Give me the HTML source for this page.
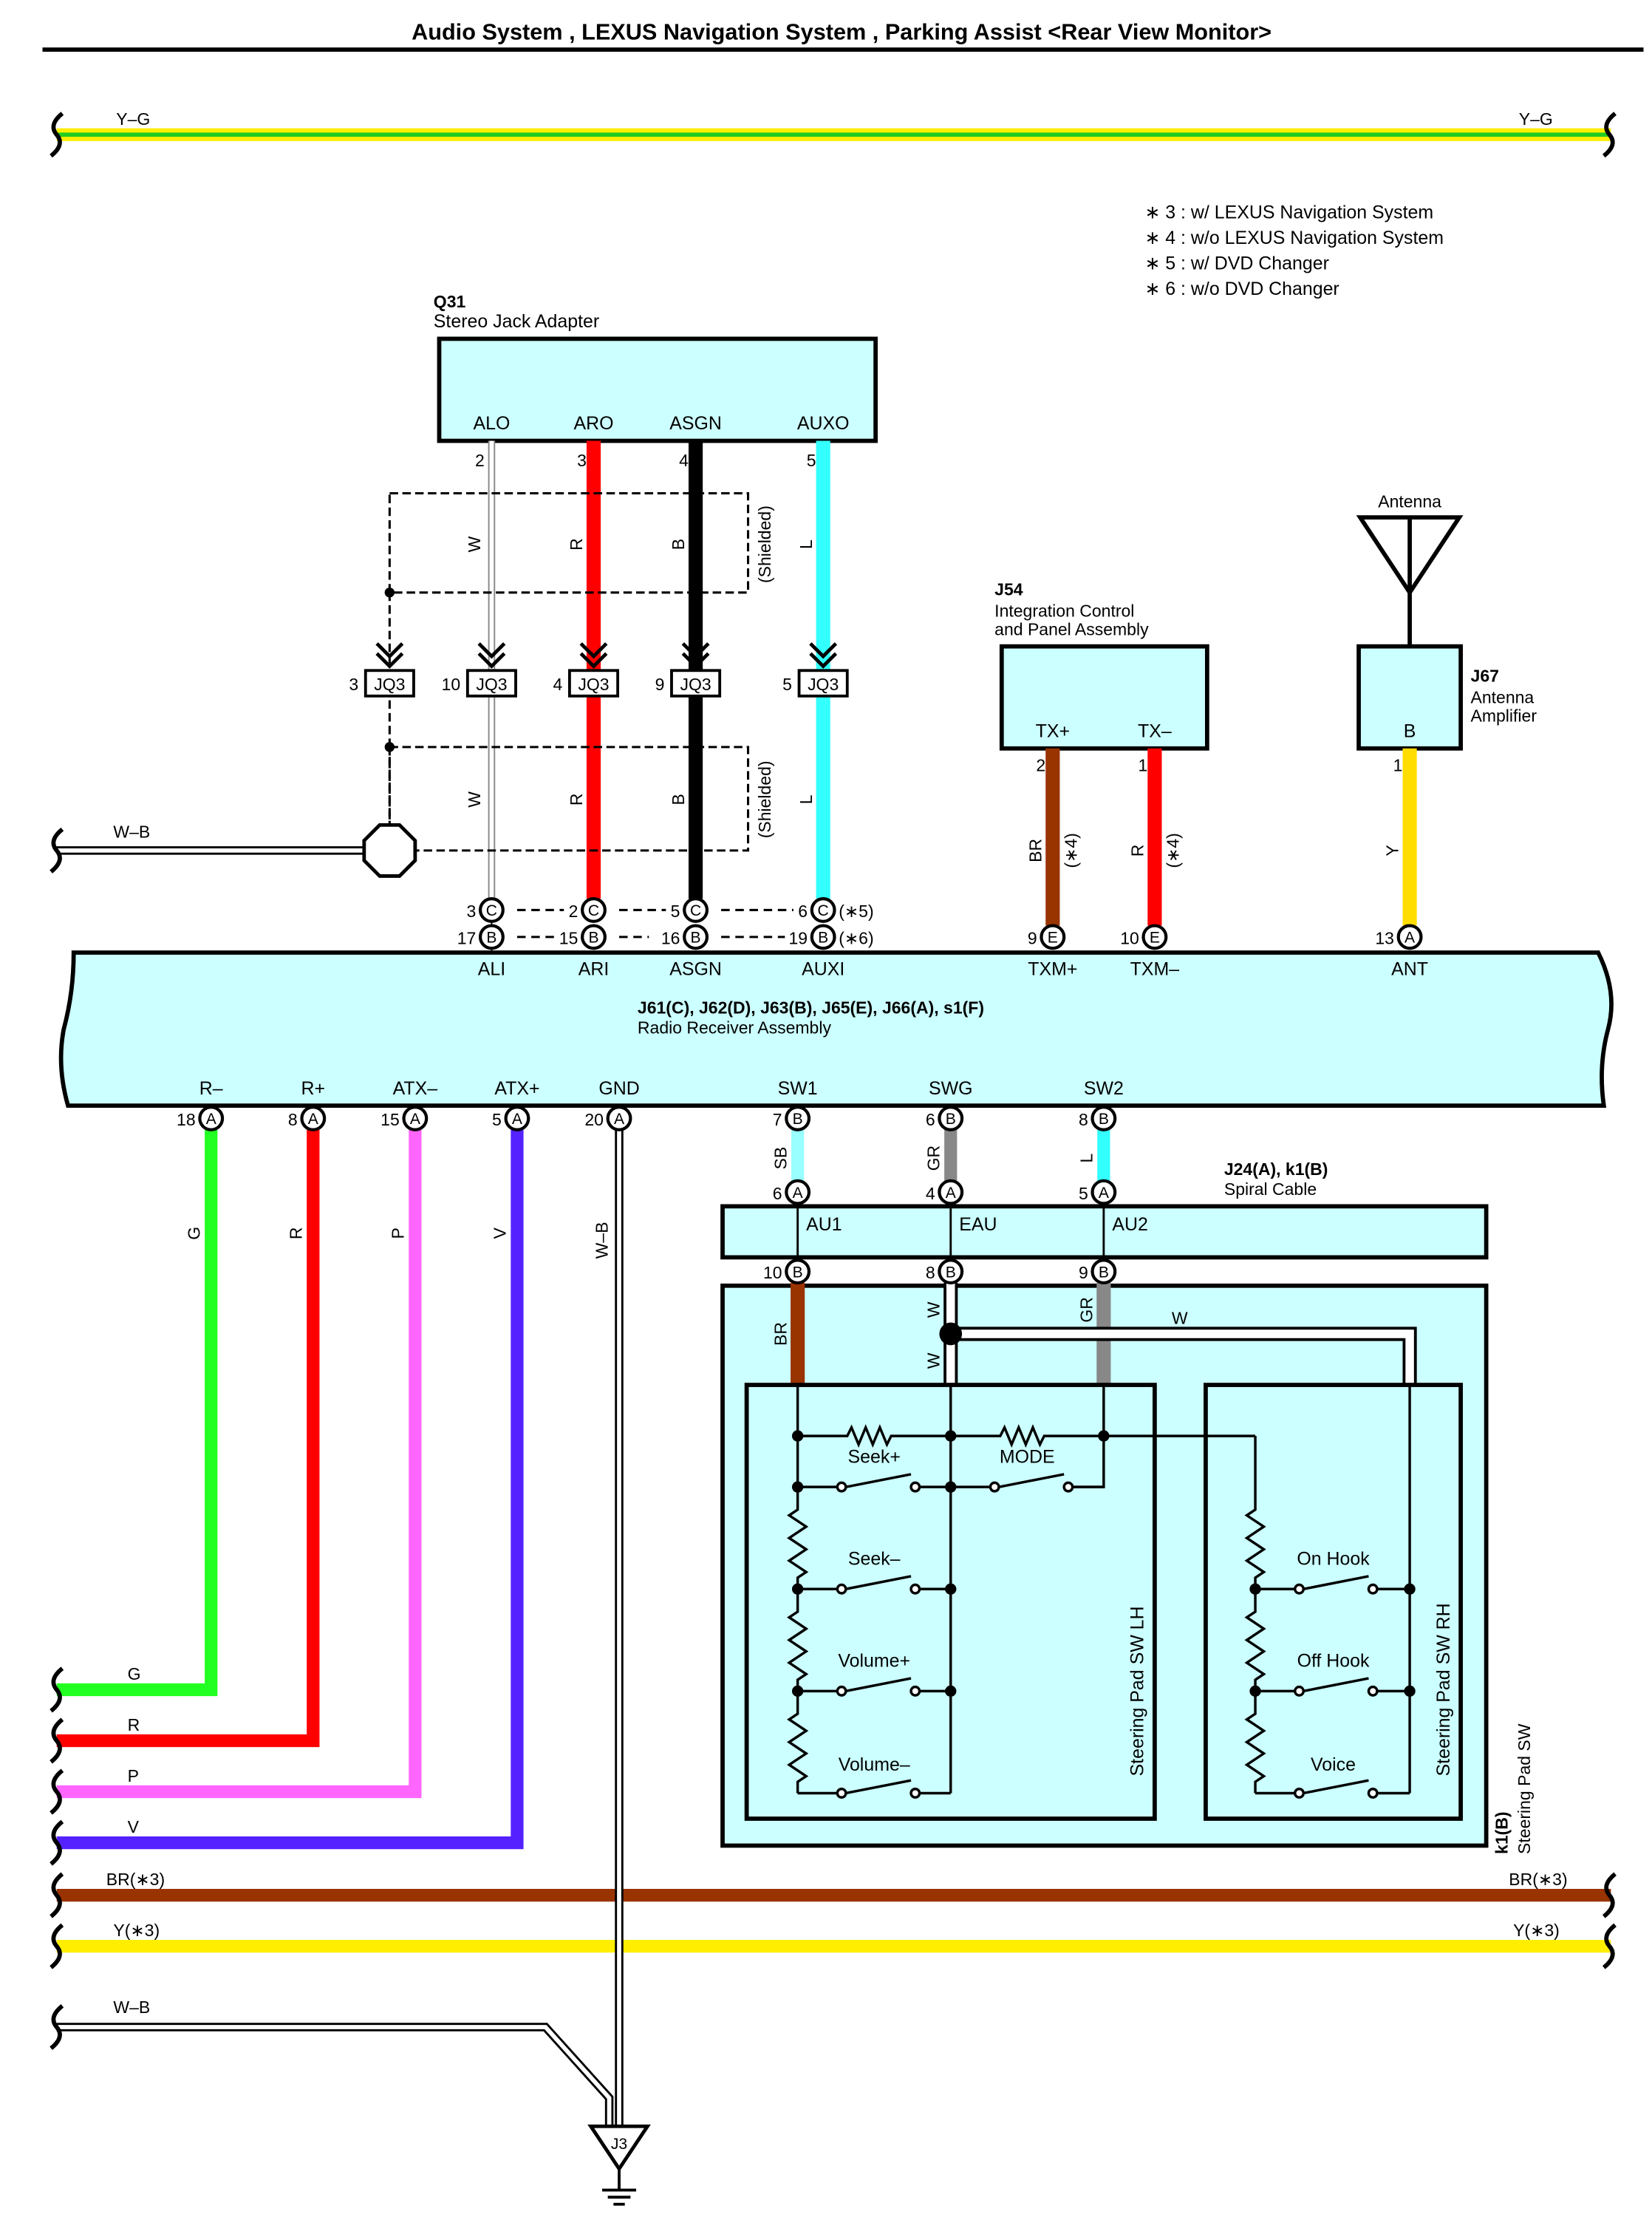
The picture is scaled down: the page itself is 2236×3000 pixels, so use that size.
<!DOCTYPE html>
<html><head><meta charset="utf-8">
<style>
html,body{margin:0;padding:0;background:#fff;}
svg{display:block;}
text{font-family:"Liberation Sans",Arial,sans-serif;fill:#000;}
</style></head>
<body>
<svg width="2236" height="3000" viewBox="0 0 1166 1564" preserveAspectRatio="none" xmlns="http://www.w3.org/2000/svg">
<rect width="1166" height="1564" fill="#fff"/>
<!-- title -->
<text x="594" y="28" font-size="16" font-weight="bold" text-anchor="middle">Audio System , LEXUS Navigation System , Parking Assist &lt;Rear View Monitor&gt;</text>
<line x1="30" y1="35" x2="1160" y2="35" stroke="#000" stroke-width="3"/>

<!-- Y-G -->
<line x1="40" y1="95" x2="1137" y2="95" stroke="#ffee00" stroke-width="9"/>
<line x1="40" y1="95" x2="1137" y2="95" stroke="#22cc22" stroke-width="3"/>
<path d="M44 80 q-10 8 -4 15 q6 7 -4 15" fill="none" stroke="#000" stroke-width="3"/>
<path d="M1140 80 q-10 8 -4 15 q6 7 -4 15" fill="none" stroke="#000" stroke-width="3"/>
<text x="82" y="88" font-size="12">Y–G</text>
<text x="1072" y="88" font-size="12">Y–G</text>

<!-- notes -->
<g font-size="13">
<text x="808" y="154">∗ 3 : w/ LEXUS Navigation System</text>
<text x="808" y="172">∗ 4 : w/o LEXUS Navigation System</text>
<text x="808" y="190">∗ 5 : w/ DVD Changer</text>
<text x="808" y="208">∗ 6 : w/o DVD Changer</text>
</g>

<!-- Q31 -->
<text x="306" y="217" font-size="12" font-weight="bold">Q31</text>
<text x="306" y="231" font-size="13">Stereo Jack Adapter</text>
<rect x="310" y="239" width="308" height="72" fill="#ccffff" stroke="#000" stroke-width="3"/>
<g font-size="13" text-anchor="middle">
<text x="347" y="303">ALO</text><text x="419" y="303">ARO</text><text x="491" y="303">ASGN</text><text x="581" y="303">AUXO</text>
</g>
<g font-size="12" text-anchor="end">
<text x="342" y="329">2</text><text x="414" y="329">3</text><text x="486" y="329">4</text><text x="576" y="329">5</text>
</g>

<!-- wires Q31 to radio -->
<line x1="347" y1="311" x2="347" y2="634" stroke="#888" stroke-width="5"/>
<line x1="347" y1="311" x2="347" y2="634" stroke="#fff" stroke-width="3"/>
<line x1="419" y1="311" x2="419" y2="634" stroke="#ff0000" stroke-width="10"/>
<line x1="491" y1="311" x2="491" y2="634" stroke="#000" stroke-width="10"/>
<line x1="581" y1="311" x2="581" y2="634" stroke="#33ffff" stroke-width="10"/>

<!-- shields -->
<g fill="none" stroke="#000" stroke-width="1.6" stroke-dasharray="6,3">
<rect x="275" y="348" width="253" height="70"/>
<rect x="275" y="527" width="253" height="73"/>
<line x1="275" y1="418" x2="275" y2="468"/>
<line x1="275" y1="494" x2="275" y2="527"/>
<line x1="275" y1="527" x2="275" y2="582"/>
</g>
<circle cx="275" cy="418" r="3.5" fill="#000"/>
<circle cx="275" cy="527" r="3.5" fill="#000"/>
<text transform="translate(544,384) rotate(-90)" font-size="12" text-anchor="middle">(Shielded)</text>
<text transform="translate(544,564) rotate(-90)" font-size="12" text-anchor="middle">(Shielded)</text>
<g font-size="12" text-anchor="middle">
<text transform="translate(339,384) rotate(-90)">W</text>
<text transform="translate(411,384) rotate(-90)">R</text>
<text transform="translate(483,384) rotate(-90)">B</text>
<text transform="translate(573,384) rotate(-90)">L</text>
<text transform="translate(339,564) rotate(-90)">W</text>
<text transform="translate(411,564) rotate(-90)">R</text>
<text transform="translate(483,564) rotate(-90)">B</text>
<text transform="translate(573,564) rotate(-90)">L</text>
</g>

<!-- JQ3 connectors -->
<g stroke="#000" stroke-width="2.5" fill="none">
<path d="M266 454 l9 9 l9 -9 M266 461 l9 9 l9 -9"/>
<path d="M338 454 l9 9 l9 -9 M338 461 l9 9 l9 -9"/>
<path d="M410 454 l9 9 l9 -9 M410 461 l9 9 l9 -9"/>
<path d="M482 454 l9 9 l9 -9 M482 461 l9 9 l9 -9"/>
<path d="M572 454 l9 9 l9 -9 M572 461 l9 9 l9 -9"/>
</g>
<g stroke="#000" stroke-width="2" fill="#fff">
<rect x="258" y="473" width="34" height="18"/>
<rect x="330" y="473" width="34" height="18"/>
<rect x="402" y="473" width="34" height="18"/>
<rect x="474" y="473" width="34" height="18"/>
<rect x="564" y="473" width="34" height="18"/>
</g>
<g font-size="12" text-anchor="middle">
<text x="275" y="487">JQ3</text><text x="347" y="487">JQ3</text><text x="419" y="487">JQ3</text><text x="491" y="487">JQ3</text><text x="581" y="487">JQ3</text>
</g>
<g font-size="12" text-anchor="end">
<text x="253" y="487">3</text><text x="325" y="487">10</text><text x="397" y="487">4</text><text x="469" y="487">9</text><text x="559" y="487">5</text>
</g>

<!-- W-B to ground octagon -->
<line x1="40" y1="600" x2="260" y2="600" stroke="#000" stroke-width="6"/>
<line x1="40" y1="600" x2="260" y2="600" stroke="#fff" stroke-width="3"/>
<path d="M44 585 q-10 8 -4 15 q6 7 -4 15" fill="none" stroke="#000" stroke-width="3"/>
<text x="80" y="591" font-size="12">W–B</text>
<polygon points="268,582 282,582 293,593 293,607 282,618 268,618 257,607 257,593" fill="#fff" stroke="#000" stroke-width="2.5"/>

<!-- connector rows C/B -->
<g stroke="#000" stroke-width="1.6" stroke-dasharray="6,4">
<line x1="365" y1="642" x2="398" y2="642"/><line x1="437" y1="642" x2="470" y2="642"/><line x1="509" y1="642" x2="560" y2="642"/>
<line x1="365" y1="661" x2="392" y2="661"/><line x1="437" y1="661" x2="458" y2="661"/><line x1="509" y1="661" x2="554" y2="661"/>
</g>
<line x1="347" y1="650" x2="347" y2="672" stroke="#000" stroke-width="1"/>
<g stroke="#000" stroke-width="2.2" fill="#fff">
<circle cx="347" cy="642" r="8"/><circle cx="419" cy="642" r="8"/><circle cx="491" cy="642" r="8"/><circle cx="581" cy="642" r="8"/>
<circle cx="347" cy="661" r="8"/><circle cx="419" cy="661" r="8"/><circle cx="491" cy="661" r="8"/><circle cx="581" cy="661" r="8"/>
</g>
<g font-size="11" text-anchor="middle">
<text x="347" y="646">C</text><text x="419" y="646">C</text><text x="491" y="646">C</text><text x="581" y="646">C</text>
<text x="347" y="665">B</text><text x="419" y="665">B</text><text x="491" y="665">B</text><text x="581" y="665">B</text>
</g>
<g font-size="12" text-anchor="end">
<text x="336" y="647">3</text><text x="408" y="647">2</text><text x="480" y="647">5</text><text x="570" y="647">6</text>
<text x="336" y="666">17</text><text x="408" y="666">15</text><text x="480" y="666">16</text><text x="570" y="666">19</text>
</g>
<text x="592" y="647" font-size="12">(∗5)</text>
<text x="592" y="666" font-size="12">(∗6)</text>

<!-- J54 -->
<text x="702" y="420" font-size="12" font-weight="bold">J54</text>
<text x="702" y="435" font-size="12">Integration Control</text>
<text x="702" y="448" font-size="12">and Panel Assembly</text>
<rect x="707" y="456" width="145" height="72" fill="#ccffff" stroke="#000" stroke-width="3"/>
<text x="743" y="520" font-size="13" text-anchor="middle">TX+</text>
<text x="815" y="520" font-size="13" text-anchor="middle">TX–</text>
<text x="738" y="544" font-size="12" text-anchor="end">2</text>
<text x="810" y="544" font-size="12" text-anchor="end">1</text>
<line x1="743" y1="528" x2="743" y2="653" stroke="#993300" stroke-width="10"/>
<line x1="815" y1="528" x2="815" y2="653" stroke="#ff0000" stroke-width="10"/>
<text transform="translate(735,600) rotate(-90)" font-size="12" text-anchor="middle">BR</text>
<text transform="translate(760,600) rotate(-90)" font-size="12" text-anchor="middle">(∗4)</text>
<text transform="translate(807,600) rotate(-90)" font-size="12" text-anchor="middle">R</text>
<text transform="translate(832,600) rotate(-90)" font-size="12" text-anchor="middle">(∗4)</text>

<!-- Antenna / J67 -->
<text x="995" y="358" font-size="12" text-anchor="middle">Antenna</text>
<polygon points="960,365 1030,365 995,418" fill="none" stroke="#000" stroke-width="3"/>
<line x1="995" y1="365" x2="995" y2="456" stroke="#000" stroke-width="3"/>
<rect x="959" y="456" width="72" height="72" fill="#ccffff" stroke="#000" stroke-width="3"/>
<text x="995" y="520" font-size="13" text-anchor="middle">B</text>
<text x="1038" y="481" font-size="12" font-weight="bold">J67</text>
<text x="1038" y="496" font-size="12">Antenna</text>
<text x="1038" y="509" font-size="12">Amplifier</text>
<text x="990" y="544" font-size="12" text-anchor="end">1</text>
<line x1="995" y1="528" x2="995" y2="653" stroke="#ffdd00" stroke-width="10"/>
<text transform="translate(987,600) rotate(-90)" font-size="12" text-anchor="middle">Y</text>

<g stroke="#000" stroke-width="2.2" fill="#fff">
<circle cx="743" cy="661" r="8"/><circle cx="815" cy="661" r="8"/><circle cx="995" cy="661" r="8"/>
</g>
<g font-size="11" text-anchor="middle"><text x="743" y="665">E</text><text x="815" y="665">E</text><text x="995" y="665">A</text></g>
<g font-size="12" text-anchor="end"><text x="732" y="666">9</text><text x="804" y="666">10</text><text x="984" y="666">13</text></g>

<!-- Radio receiver -->
<path d="M52 672 L1128 672 Q1142 700 1135 726 Q1128 752 1132 780 L48 780 Q40 752 45 726 Q52 700 52 672 Z" fill="#ccffff" stroke="#000" stroke-width="3"/>
<g font-size="13" text-anchor="middle">
<text x="347" y="688">ALI</text><text x="419" y="688">ARI</text><text x="491" y="688">ASGN</text><text x="581" y="688">AUXI</text>
<text x="743" y="688">TXM+</text><text x="815" y="688">TXM–</text><text x="995" y="688">ANT</text>
</g>
<text x="450" y="715" font-size="12" font-weight="bold">J61(C), J62(D), J63(B), J65(E), J66(A), s1(F)</text>
<text x="450" y="729" font-size="12">Radio Receiver Assembly</text>
<g font-size="13" text-anchor="middle">
<text x="149" y="772">R–</text><text x="221" y="772">R+</text><text x="293" y="772">ATX–</text><text x="365" y="772">ATX+</text><text x="437" y="772">GND</text>
<text x="563" y="772">SW1</text><text x="671" y="772">SWG</text><text x="779" y="772">SW2</text>
</g>

<!-- bottom wires -->
<path d="M149 797 V1192 H40" fill="none" stroke="#22ff22" stroke-width="9"/>
<path d="M221 797 V1228 H40" fill="none" stroke="#ff0000" stroke-width="9"/>
<path d="M293 797 V1264 H40" fill="none" stroke="#ff66ff" stroke-width="9"/>
<path d="M365 797 V1300 H40" fill="none" stroke="#5522ff" stroke-width="9"/>
<text transform="translate(141,870) rotate(-90)" font-size="12" text-anchor="middle">G</text>
<text transform="translate(213,870) rotate(-90)" font-size="12" text-anchor="middle">R</text>
<text transform="translate(285,870) rotate(-90)" font-size="12" text-anchor="middle">P</text>
<text transform="translate(357,870) rotate(-90)" font-size="12" text-anchor="middle">V</text>
<text transform="translate(429,875) rotate(-90)" font-size="12" text-anchor="middle">W–B</text>
<g font-size="12"><text x="90" y="1185">G</text><text x="90" y="1221">R</text><text x="90" y="1257">P</text><text x="90" y="1293">V</text></g>

<!-- BR and Y lines -->
<line x1="40" y1="1337" x2="1137" y2="1337" stroke="#993300" stroke-width="9"/>
<line x1="40" y1="1373" x2="1137" y2="1373" stroke="#ffee00" stroke-width="9"/>
<g font-size="12"><text x="75" y="1330">BR(∗3)</text><text x="1065" y="1330">BR(∗3)</text><text x="80" y="1366">Y(∗3)</text><text x="1068" y="1366">Y(∗3)</text></g>

<!-- GND and W-B bottom -->
<path d="M437 797 V1500" fill="none" stroke="#000" stroke-width="6"/>
<path d="M437 797 V1500" fill="none" stroke="#fff" stroke-width="3"/>
<path d="M40 1430 H385 L430 1480 V1500" fill="none" stroke="#000" stroke-width="6"/>
<path d="M40 1430 H385 L430 1480 V1500" fill="none" stroke="#fff" stroke-width="3"/>
<text x="80" y="1420" font-size="12">W–B</text>
<polygon points="417,1500 457,1500 437,1530" fill="#fff" stroke="#000" stroke-width="2.5"/>
<text x="437" y="1516" font-size="11" text-anchor="middle">J3</text>
<g stroke="#000" stroke-width="2"><line x1="437" y1="1530" x2="437" y2="1545"/><line x1="425" y1="1545" x2="449" y2="1545"/><line x1="429" y1="1550" x2="445" y2="1550"/><line x1="433" y1="1555" x2="441" y2="1555"/></g>

<!-- wavy ends -->
<g fill="none" stroke="#000" stroke-width="3">
<path d="M44 1177 q-10 8 -4 15 q6 7 -4 15"/>
<path d="M44 1213 q-10 8 -4 15 q6 7 -4 15"/>
<path d="M44 1249 q-10 8 -4 15 q6 7 -4 15"/>
<path d="M44 1285 q-10 8 -4 15 q6 7 -4 15"/>
<path d="M44 1322 q-10 8 -4 15 q6 7 -4 15"/>
<path d="M44 1358 q-10 8 -4 15 q6 7 -4 15"/>
<path d="M44 1415 q-10 8 -4 15 q6 7 -4 15"/>
<path d="M1140 1322 q-10 8 -4 15 q6 7 -4 15"/>
<path d="M1140 1358 q-10 8 -4 15 q6 7 -4 15"/>
</g>

<!-- SW wires to spiral -->
<line x1="563" y1="797" x2="563" y2="833" stroke="#99ffff" stroke-width="9"/>
<line x1="671" y1="797" x2="671" y2="833" stroke="#888" stroke-width="9"/>
<line x1="779" y1="797" x2="779" y2="833" stroke="#33ffff" stroke-width="9"/>
<text transform="translate(555,817) rotate(-90)" font-size="12" text-anchor="middle">SB</text>
<text transform="translate(663,817) rotate(-90)" font-size="12" text-anchor="middle">GR</text>
<text transform="translate(771,817) rotate(-90)" font-size="12" text-anchor="middle">L</text>

<!-- Spiral cable -->
<text x="864" y="829" font-size="12" font-weight="bold">J24(A), k1(B)</text>
<text x="864" y="843" font-size="12">Spiral Cable</text>
<rect x="510" y="851" width="539" height="36" fill="#ccffff" stroke="#000" stroke-width="3"/>
<line x1="563" y1="851" x2="563" y2="887" stroke="#000" stroke-width="1.5"/>
<line x1="671" y1="851" x2="671" y2="887" stroke="#000" stroke-width="1.5"/>
<line x1="779" y1="851" x2="779" y2="887" stroke="#000" stroke-width="1.5"/>
<g font-size="13"><text x="569" y="868">AU1</text><text x="677" y="868">EAU</text><text x="785" y="868">AU2</text></g>

<!-- steering pad outer -->
<rect x="510" y="907" width="539" height="395" fill="#ccffff" stroke="#000" stroke-width="3"/>
<line x1="563" y1="905" x2="563" y2="977" stroke="#993300" stroke-width="10"/>
<line x1="671" y1="905" x2="671" y2="977" stroke="#000" stroke-width="10"/>
<line x1="671" y1="905" x2="671" y2="977" stroke="#fff" stroke-width="6"/>
<line x1="779" y1="905" x2="779" y2="977" stroke="#888" stroke-width="10"/>
<path d="M671 941 H995 V977" fill="none" stroke="#000" stroke-width="10"/>
<path d="M671 941 H995 V977" fill="none" stroke="#fff" stroke-width="6"/>
<circle cx="671" cy="941" r="8" fill="#000"/>
<text transform="translate(555,941) rotate(-90)" font-size="12" text-anchor="middle">BR</text>
<text transform="translate(663,924) rotate(-90)" font-size="12" text-anchor="middle">W</text>
<text transform="translate(663,960) rotate(-90)" font-size="12" text-anchor="middle">W</text>
<text transform="translate(771,924) rotate(-90)" font-size="12" text-anchor="middle">GR</text>
<text x="827" y="934" font-size="12">W</text>
<text transform="translate(1064,1308) rotate(-90)" font-size="12" font-weight="bold">k1(B)</text>
<text transform="translate(1080,1308) rotate(-90)" font-size="12">Steering Pad SW</text>

<!-- connectors -->
<g stroke="#000" stroke-width="2.2" fill="#fff">
<circle cx="149" cy="789" r="8"/><circle cx="221" cy="789" r="8"/><circle cx="293" cy="789" r="8"/><circle cx="365" cy="789" r="8"/><circle cx="437" cy="789" r="8"/>
<circle cx="563" cy="789" r="8"/><circle cx="671" cy="789" r="8"/><circle cx="779" cy="789" r="8"/>
<circle cx="563" cy="841" r="8"/><circle cx="671" cy="841" r="8"/><circle cx="779" cy="841" r="8"/>
<circle cx="563" cy="897" r="8"/><circle cx="671" cy="897" r="8"/><circle cx="779" cy="897" r="8"/>
</g>
<g font-size="11" text-anchor="middle">
<text x="149" y="793">A</text><text x="221" y="793">A</text><text x="293" y="793">A</text><text x="365" y="793">A</text><text x="437" y="793">A</text>
<text x="563" y="793">B</text><text x="671" y="793">B</text><text x="779" y="793">B</text>
<text x="563" y="845">A</text><text x="671" y="845">A</text><text x="779" y="845">A</text>
<text x="563" y="901">B</text><text x="671" y="901">B</text><text x="779" y="901">B</text>
</g>
<g font-size="12" text-anchor="end">
<text x="138" y="794">18</text><text x="210" y="794">8</text><text x="282" y="794">15</text><text x="354" y="794">5</text><text x="426" y="794">20</text>
<text x="552" y="794">7</text><text x="660" y="794">6</text><text x="768" y="794">8</text>
<text x="552" y="846">6</text><text x="660" y="846">4</text><text x="768" y="846">5</text>
<text x="552" y="902">10</text><text x="660" y="902">8</text><text x="768" y="902">9</text>
</g>

<!-- LH / RH boxes -->
<rect x="527" y="977" width="288" height="306" fill="none" stroke="#000" stroke-width="3"/>
<rect x="851" y="977" width="180" height="306" fill="none" stroke="#000" stroke-width="3"/>
<text transform="translate(807,1253) rotate(-90)" font-size="13">Steering Pad SW LH</text>
<text transform="translate(1023,1253) rotate(-90)" font-size="13">Steering Pad SW RH</text>

<g fill="none" stroke="#000" stroke-width="1.8">
<path d="M563 977 V1065 l-6 4 l12 8 l-12 8 l12 8 l-12 8 l12 8 l-6 4 V1137 l-6 4 l12 8 l-12 8 l12 8 l-12 8 l12 8 l-6 4 V1209 l-6 4 l12 8 l-12 8 l12 8 l-12 8 l12 8 l-6 4 V1265"/>
<path d="M671 977 V1265"/>
<path d="M779 977 V1049 H755"/>
<path d="M563 1013 H598 l3 -6 l5 12 l5 -12 l5 12 l5 -12 l5 12 l3 -6 H671"/>
<path d="M671 1013 H706 l3 -6 l5 12 l5 -12 l5 12 l5 -12 l5 12 l3 -6 H886"/>
<path d="M563 1049 H591 M597 1049 L643 1040 M649 1049 H671"/>
<path d="M671 1049 H699 M705 1049 L751 1040 M757 1049 H779"/>
<path d="M563 1121 H591 M597 1121 L643 1112 M649 1121 H671"/>
<path d="M563 1193 H591 M597 1193 L643 1184 M649 1193 H671"/>
<path d="M563 1265 H591 M597 1265 L643 1256 M649 1265 H671"/>
<path d="M886 1013 V1065 l-6 4 l12 8 l-12 8 l12 8 l-12 8 l12 8 l-6 4 V1137 l-6 4 l12 8 l-12 8 l12 8 l-12 8 l12 8 l-6 4 V1209 l-6 4 l12 8 l-12 8 l12 8 l-12 8 l12 8 l-6 4 V1265"/>
<path d="M995 977 V1265"/>
<path d="M886 1121 H914 M920 1121 L966 1112 M972 1121 H995"/>
<path d="M886 1193 H914 M920 1193 L966 1184 M972 1193 H995"/>
<path d="M886 1265 H914 M920 1265 L966 1256 M972 1265 H995"/>
</g>
<g fill="#fff" stroke="#000" stroke-width="1.8">
<circle cx="594" cy="1049" r="3"/><circle cx="646" cy="1049" r="3"/>
<circle cx="702" cy="1049" r="3"/><circle cx="754" cy="1049" r="3"/>
<circle cx="594" cy="1121" r="3"/><circle cx="646" cy="1121" r="3"/>
<circle cx="594" cy="1193" r="3"/><circle cx="646" cy="1193" r="3"/>
<circle cx="594" cy="1265" r="3"/><circle cx="646" cy="1265" r="3"/>
<circle cx="917" cy="1121" r="3"/><circle cx="969" cy="1121" r="3"/>
<circle cx="917" cy="1193" r="3"/><circle cx="969" cy="1193" r="3"/>
<circle cx="917" cy="1265" r="3"/><circle cx="969" cy="1265" r="3"/>
</g>
<g fill="#000">
<circle cx="563" cy="1013" r="4"/><circle cx="671" cy="1013" r="4"/><circle cx="779" cy="1013" r="4"/>
<circle cx="563" cy="1049" r="4"/><circle cx="671" cy="1049" r="4"/>
<circle cx="563" cy="1121" r="4"/><circle cx="671" cy="1121" r="4"/>
<circle cx="563" cy="1193" r="4"/><circle cx="671" cy="1193" r="4"/>
<circle cx="886" cy="1121" r="4"/><circle cx="995" cy="1121" r="4"/>
<circle cx="886" cy="1193" r="4"/><circle cx="995" cy="1193" r="4"/>
</g>
<g font-size="13" text-anchor="middle">
<text x="617" y="1032">Seek+</text><text x="725" y="1032">MODE</text>
<text x="617" y="1104">Seek–</text><text x="617" y="1176">Volume+</text><text x="617" y="1249">Volume–</text>
<text x="941" y="1104">On Hook</text><text x="941" y="1176">Off Hook</text><text x="941" y="1249">Voice</text>
</g>
</svg>
</body></html>
